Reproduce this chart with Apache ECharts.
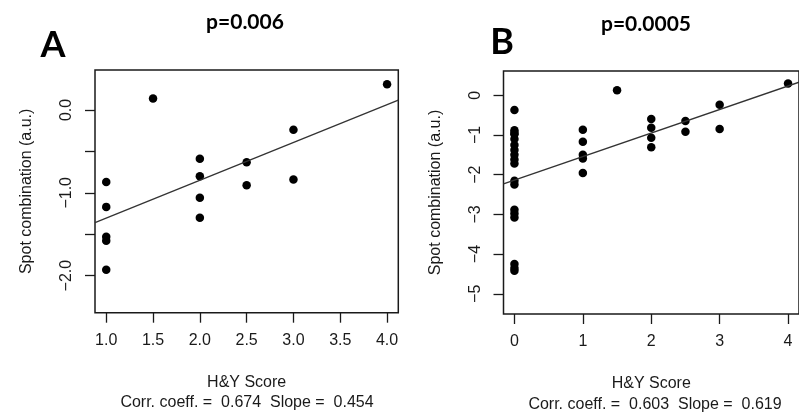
<!DOCTYPE html>
<html><head><meta charset="utf-8">
<script src="https://cdn.jsdelivr.net/npm/echarts@6/dist/echarts.min.js"></script>
<style>html,body{margin:0;padding:0;background:#fff}#c{width:799px;height:418px}</style>
</head><body><div id="c"></div>
<script>
// Panel A data
const hyA   = [1, 1, 1, 1, 1, 1.5, 2, 2, 2, 2, 2.5, 2.5, 3, 3, 4];
const spotA = [-0.87, -1.17, -1.53, -1.58, -1.93, 0.14, -0.59, -0.80, -1.06, -1.30, -0.63, -0.91, -0.24, -0.84, 0.31];
const fitAx = [0.88, 4.12];
const fitAy = [-1.36, 0.12];
const xTicksA = [1.0, 1.5, 2.0, 2.5, 3.0, 3.5, 4.0];
const yTicksA = [-2.0, -1.5, -1.0, -0.5, 0.0];
const yLabelsA = [-2.0, -1.0, 0.0];

// Panel B data
const hyB   = [0,0,0,0,0,0,0,0,0,0,0,0,0,0,0,0,0,0, 1,1,1,1,1, 1.5, 2,2,2,2, 2.5,2.5, 3,3, 4];
const spotB = [-0.37,-0.88,-0.98,-1.10,-1.25,-1.38,-1.50,-1.62,-1.72,-2.15,-2.25,-2.88,-2.98,-3.08,-4.25,-4.35,-4.42,-0.95,
               -0.87,-1.17,-1.50,-1.59,-1.96, 0.13, -0.60,-0.82,-1.07,-1.31, -0.65,-0.92, -0.24,-0.85, 0.30];
const fitBx = [-0.16, 4.16];
const fitBy = [-2.23, 0.33];
const xTicksB = [0, 1, 2, 3, 4];
const yTicksB = [-5, -4, -3, -2, -1, 0];

const xName = 'H&Y Score';
const yName = 'Spot combination (a.u.)';
const statsA = 'Corr. coeff. =  0.674  Slope =  0.454';
const statsB = 'Corr. coeff. =  0.603  Slope =  0.619';

const FONT = '"Liberation Sans", Arial, sans-serif';
const INK = '#1a1a1a';
const minus = s => String(s).replace('-', '\u2212');

function xAxis(gi, min, max, ticks, fmt) {
  return {
    type: 'value', gridIndex: gi, min, max,
    axisLine: { show: false, onZero: false }, splitLine: { show: false },
    axisTick: { show: true, inside: false, length: 10, customValues: ticks, lineStyle: { color: INK, width: 1.3 } },
    axisLabel: { customValues: ticks, formatter: fmt, margin: 20, fontSize: 16, color: INK, fontFamily: FONT },
    name: xName, nameLocation: 'middle', nameGap: 62,
    nameTextStyle: { fontSize: 16, color: INK, fontFamily: FONT }
  };
}
function yAxis(gi, min, max, ticks, labels, fmt) {
  return {
    type: 'value', gridIndex: gi, min, max,
    axisLine: { show: false, onZero: false }, splitLine: { show: false },
    axisTick: { show: true, inside: false, length: 10, customValues: ticks, lineStyle: { color: INK, width: 1.3 } },
    axisLabel: { customValues: labels, formatter: fmt, rotate: 90, margin: 20, fontSize: 16, color: INK, fontFamily: FONT },
    name: yName, nameLocation: 'middle', nameGap: 60,
    nameTextStyle: { fontSize: 16, color: INK, fontFamily: FONT }
  };
}

const chart = echarts.init(document.getElementById('c'), null, { renderer: 'canvas' });
chart.setOption({
  animation: false,
  backgroundColor: '#fff',
  grid: [
    { left: 95, top: 70, width: 303.3, height: 242.7, show: true, borderColor: INK, borderWidth: 1.5, backgroundColor: 'transparent' },
    { left: 503.5, top: 71, width: 303.3, height: 243, show: true, borderColor: INK, borderWidth: 1.5, backgroundColor: 'transparent' }
  ],
  xAxis: [
    xAxis(0, 0.88, 4.12, xTicksA, v => v.toFixed(1)),
    xAxis(1, -0.16, 4.16, xTicksB, v => String(Math.round(v)))
  ],
  yAxis: [
    yAxis(0, -2.448, 0.483, yTicksA, yLabelsA, v => minus(v.toFixed(1))),
    yAxis(1, -5.509, 0.612, yTicksB, yTicksB, v => minus(Math.round(v)))
  ],
  series: [
    { type: 'line', xAxisIndex: 0, yAxisIndex: 0, data: fitAx.map((x, i) => [x, fitAy[i]]), symbol: 'none', lineStyle: { color: '#333', width: 1.3 }, silent: true },
    { type: 'scatter', xAxisIndex: 0, yAxisIndex: 0, data: hyA.map((x, i) => [x, spotA[i]]), symbolSize: 8.5, itemStyle: { color: '#000', opacity: 1 } },
    { type: 'line', xAxisIndex: 1, yAxisIndex: 1, data: fitBx.map((x, i) => [x, fitBy[i]]), symbol: 'none', lineStyle: { color: '#333', width: 1.3 }, silent: true },
    { type: 'scatter', xAxisIndex: 1, yAxisIndex: 1, data: hyB.map((x, i) => [x, spotB[i]]), symbolSize: 8.5, itemStyle: { color: '#000', opacity: 1 } }
  ],
  graphic: [
    { type: 'text', style: { x: 53, y: 45, text: 'A', font: 'bold 36px Lato, "Open Sans", sans-serif', fill: '#000', textAlign: 'center', textVerticalAlign: 'middle' } },
    { type: 'text', style: { x: 245, y: 22, text: 'p=0.006', font: 'bold 21px Lato, "Open Sans", sans-serif', fill: '#000', textAlign: 'center', textVerticalAlign: 'middle' } },
    { type: 'text', style: { x: 502, y: 42, text: 'B', font: 'bold 36px Lato, "Open Sans", sans-serif', fill: '#000', textAlign: 'center', textVerticalAlign: 'middle' } },
    { type: 'text', style: { x: 646, y: 24, text: 'p=0.0005', font: 'bold 21px Lato, "Open Sans", sans-serif', fill: '#000', textAlign: 'center', textVerticalAlign: 'middle' } },
    { type: 'text', style: { x: 247, y: 403, text: statsA, font: '16px "Liberation Sans", Arial, sans-serif', fill: INK, textAlign: 'center', textVerticalAlign: 'middle' } },
    { type: 'text', style: { x: 655, y: 405, text: statsB, font: '16px "Liberation Sans", Arial, sans-serif', fill: INK, textAlign: 'center', textVerticalAlign: 'middle' } }
  ]
});
</script></body></html>
